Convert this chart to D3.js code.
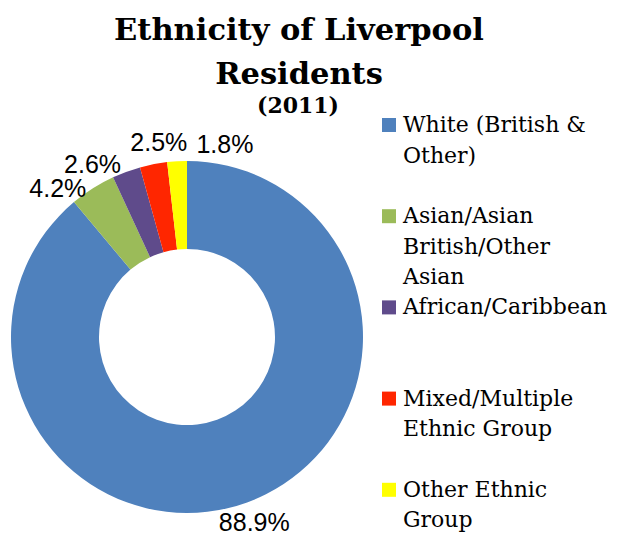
<!DOCTYPE html>
<meta charset="utf-8">
<script src="https://d3js.org/d3.v7.min.js"></script>
<style>
body { margin: 0; background: #fff; }
</style>
<div id="chart"></div>
<script>

	const width = 617,
	      height = 543;

	// data (percent of residents, 2011)
	const categories = ['White (British & Other)', 'Asian/Asian British/Other Asian', 'African/Caribbean',
		'Mixed/Multiple Ethnic Group', 'Other Ethnic Group'];
	const values = [88.9, 4.2, 2.6, 2.5, 1.8];
	const colors = ['#4f81bd', '#9bbb59', '#5f4b8b', '#ff2600', '#ffff00'];
	// legend text as wrapped in the original
	const legendLines = [
		['White (British &', 'Other)'],
		['Asian/Asian', 'British/Other', 'Asian'],
		['African/Caribbean'],
		['Mixed/Multiple', 'Ethnic Group'],
		['Other Ethnic', 'Group'],
	];
	const titleLines = ['Ethnicity of Liverpool', 'Residents'];
	const subtitle = '(2011)';

	const cx = 187, cy = 337,
	      outer = 176, inner = 88,
	      label_r = 197,
	      serif = '"DejaVu Serif", serif',
	      sans = '"Liberation Sans", Arial, sans-serif';

	const svg = d3.select('#chart')
		.append('svg')
		.attr('width', width)
		.attr('height', height);

	// title
	svg.append('g')
		.selectAll('text')
		.data(titleLines)
		.join('text')
		.attr('x', 299)
		.attr('y', (d, i) => 40 + i * 44)
		.attr('text-anchor', 'middle')
		.attr('font-family', serif)
		.attr('font-weight', 'bold')
		.attr('font-size', 30.5)
		.text(d => d);
	svg.append('text')
		.attr('x', 298)
		.attr('y', 113)
		.attr('text-anchor', 'middle')
		.attr('font-family', serif)
		.attr('font-weight', 'bold')
		.attr('font-size', 22)
		.text(subtitle);

	const data = categories.map((c, i) => ({name: c, value: values[i], color: colors[i], lines: legendLines[i]}));

	const pie = d3.pie().sort(null).value(d => d.value);
	const arcs = pie(data);
	const arc = d3.arc().innerRadius(inner).outerRadius(outer);

	const g = svg.append('g').attr('transform', `translate(${cx},${cy})`);
	g.selectAll('path')
		.data(arcs)
		.join('path')
		.attr('d', arc)
		.attr('fill', d => d.data.color);

	// labels sit on a circle just outside the ring; crowded ones slide
	// apart along that circle until their boxes stop overlapping
	const lw = 66, lh = 24;
	const labels = arcs.map(a => ({
		text: d3.format('.1f')(a.data.value) + '%',
		ang: (a.startAngle + a.endAngle) / 2,
	}));
	const place = d => { d.x = Math.sin(d.ang) * label_r; d.y = -Math.cos(d.ang) * label_r; };
	labels.forEach(place);
	for (let it = 0; it < 500; it++) {
		let moved = false;
		for (let i = 1; i < labels.length; i++) {
			const a = labels[i - 1], b = labels[i];
			if (Math.abs(b.x - a.x) < lw && Math.abs(b.y - a.y) < lh) {
				a.ang -= 0.002;
				b.ang += 0.002;
				place(a); place(b);
				moved = true;
			}
		}
		if (!moved) break;
	}
	g.selectAll('text.lbl')
		.data(labels)
		.join('text')
		.attr('class', 'lbl')
		.attr('x', d => d.x)
		.attr('y', d => d.y)
		.attr('dy', '0.36em')
		.attr('text-anchor', 'middle')
		.attr('font-family', sans)
		.attr('font-size', 25)
		.text(d => d.text);

	// legend
	const legend = svg.append('g')
		.selectAll('g')
		.data(data)
		.join('g')
		.attr('transform', (d, i) => `translate(382,${132 + i * 91.2})`);
	legend.append('rect')
		.attr('x', 0)
		.attr('y', -14)
		.attr('width', 14)
		.attr('height', 14)
		.attr('fill', d => d.color);
	legend.append('text')
		.attr('font-family', serif)
		.attr('font-size', 22)
		.attr('fill', '#000')
		.selectAll('tspan')
		.data(d => d.lines)
		.join('tspan')
		.attr('x', 21)
		.attr('y', (d, i) => i * 30.5)
		.text(d => d);

</script>
